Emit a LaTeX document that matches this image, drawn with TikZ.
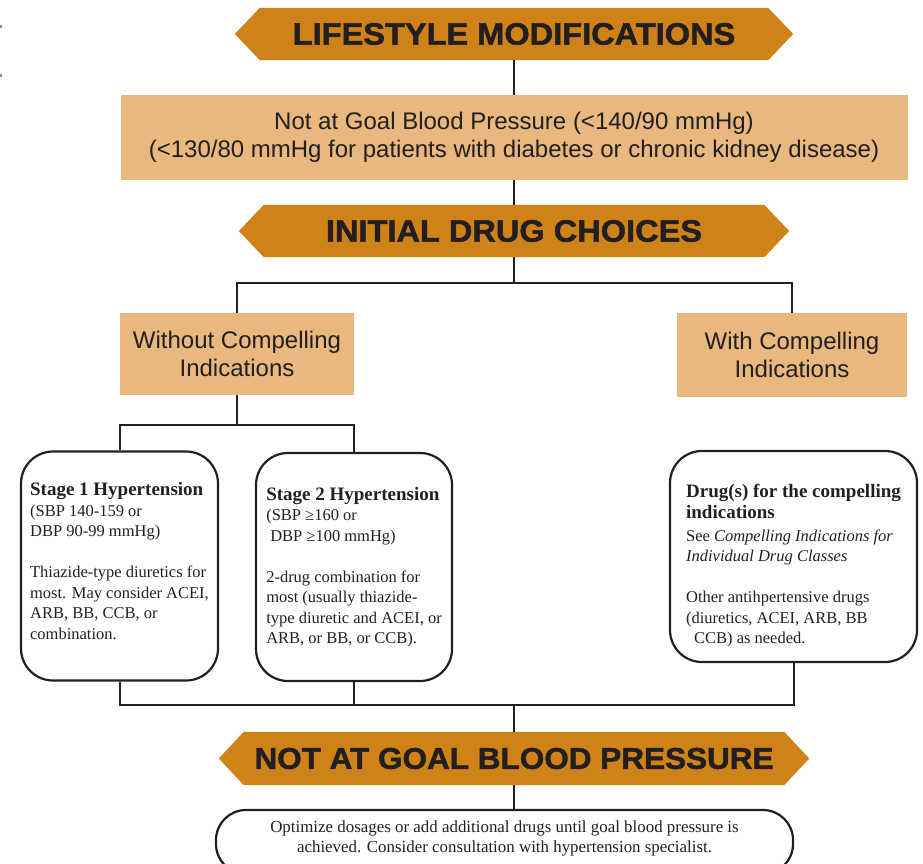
\documentclass[tikz,border=0pt]{standalone}
\usepackage{fontspec}
\setmainfont{Liberation Serif}
\newfontfamily\sansf{Liberation Sans}
\newfontfamily\bannerf{Liberation Sans Bold}[FakeBold=1.6,FakeStretch=1.05]
\usetikzlibrary{backgrounds}
\definecolor{bannerfill}{HTML}{CF8217}
\definecolor{lightfill}{HTML}{E9B87F}
\definecolor{inkc}{HTML}{231F20}
\definecolor{markblue}{HTML}{5B9BD5}
\newcommand\btitle{\bfseries\fontsize{19}{21}\selectfont}
\begin{document}
\begin{tikzpicture}[x=1pt,y=-1pt,
  conn/.style={draw=inkc, line width=2pt},
  banner/.style={inner sep=0pt, minimum height=52pt, font=\bannerf\fontsize{31}{31}\selectfont, text=inkc},
  bannershape/.style={fill=bannerfill},
  lightbox/.style={fill=lightfill, inner sep=0pt, align=center, text=inkc, font=\sansf\fontsize{24}{28.5}\selectfont},
  roundbox/.style={draw=inkc, line width=2.2pt, rounded corners=32pt, inner sep=0pt, align=left, text=inkc, font=\fontsize{16.5}{20.5}\selectfont}
]
\useasboundingbox (0,0) rectangle (923,864);
\clip (0,0) rectangle (923,864);

% tiny marks at left edge
\fill[markblue] (0,25) rectangle (2,28);
\fill[markblue] (0,74) rectangle (2,77);

% banners
\node[banner, minimum width=508pt] (b1) at (514,34) {LIFESTYLE MODIFICATIONS};
\node[banner, minimum width=500pt] (b2) at (514,231) {INITIAL DRUG CHOICES};
\node[banner, minimum width=540pt, minimum height=53pt, font=\bannerf\fontsize{30}{30}\selectfont] (b3) at (514,758.5) {NOT AT GOAL BLOOD PRESSURE};
\begin{scope}[on background layer]
  \foreach \b in {b1,b2,b3}{
    \path[bannershape] (\b.north west) -- ([xshift=-25pt]\b.west) -- (\b.south west)
      -- (\b.south east) -- ([xshift=25pt]\b.east) -- (\b.north east) -- cycle;
  }
\end{scope}

% light boxes
\node[lightbox, minimum width=787pt, minimum height=85pt] (goal) at (514,137.5)
  {Not at Goal Blood Pressure (<140/90 mmHg)\\(<130/80 mmHg for patients with diabetes or chronic kidney disease)};
\node[lightbox, minimum width=234pt, minimum height=82pt] (without) at (237,354)
  {Without Compelling\\Indications};
\node[lightbox, minimum width=230pt, minimum height=84pt] (with) at (792,355)
  {With Compelling\\Indications};

% rounded boxes
\node[roundbox, minimum width=197pt, minimum height=229pt] (stage1) at (119.5,566)
  {{\btitle Stage 1 Hypertension}\\
   (SBP 140-159 or\\
   DBP 90-99 mmHg)\\[20.5pt]
   Thiazide-type diuretics for\\
   most. May consider ACEI,\\
   ARB, BB, CCB, or\\
   combination.\rule[-10pt]{0pt}{1pt}};
\node[roundbox, minimum width=196pt, minimum height=228pt] (stage2) at (354,567)
  {{\btitle Stage 2 Hypertension}\\
   (SBP ≥160 or\\
   \hspace*{4pt}DBP ≥100 mmHg)\\[20.5pt]
   2-drug combination for\\
   most (usually thiazide-\\
   type diuretic and ACEI, or\\
   ARB, or BB, or CCB).};
\node[roundbox, minimum width=247pt, minimum height=211pt] (compel) at (793.5,556.5)
  {{\btitle\rule{0pt}{31pt}Drug(s) for the compelling}\\[1pt]
   {\btitle indications}\\[2pt]
   See \textit{Compelling Indications for}\\
   \textit{Individual Drug Classes}\\[20.5pt]
   Other antihpertensive drugs\\
   (diuretics, ACEI, ARB, BB\\
   \hspace*{8pt}CCB) as needed.};
\node[roundbox, rounded corners=30pt, align=center, minimum width=577pt, minimum height=64pt, font=\fontsize{16.9}{20}\selectfont] (final) at (504.5,842)
  {Optimize dosages or add additional drugs until goal blood pressure is\\
   achieved. Consider consultation with hypertension specialist.\\[-10pt]};

% junction points
\coordinate (j1) at (514,283);
\coordinate (j2) at (237,425);
\coordinate (j3) at (514,705);

% connectors
\draw[conn] (b1.south) -- (goal.north);
\draw[conn] (goal.south) -- (b2.north);
\draw[conn] (b2.south) -- (j1);
\draw[conn] (without.north) |- (j1) -| (with.north);
\draw[conn] (without.south) -- (j2);
\draw[conn] (stage1.north) |- (j2) -| (stage2.north);
\draw[conn] (stage1.south) |- (j3);
\draw[conn] (stage2.south) |- (j3);
\draw[conn] (compel.south) |- (j3);
\draw[conn] (j3) -- (b3.north);
\draw[conn] (b3.south) -- (b3.south |- final.north);
\end{tikzpicture}
\end{document}
